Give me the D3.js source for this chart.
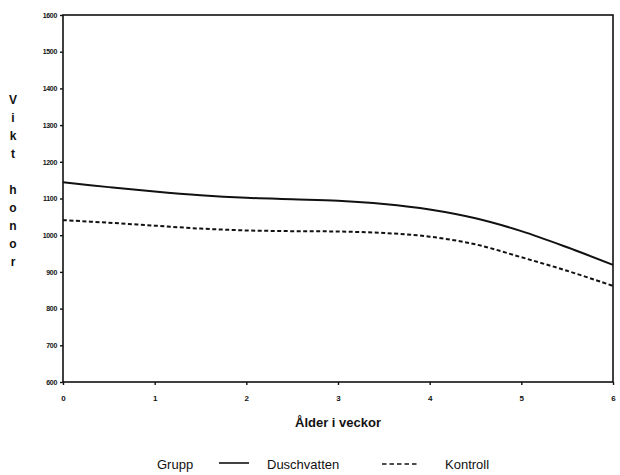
<!DOCTYPE html>
<html>
<head>
<meta charset="utf-8">
<script src="https://cdn.jsdelivr.net/npm/d3@7"></script>
<style>
  body { margin: 0; background: #fff; }
  svg { display: block; }
</style>
</head>
<body>
<svg id="chart"></svg>
<script>
// Data (weight in grams, age in weeks)
const weeks = [0, 0.5, 1, 1.5, 2, 2.5, 3, 3.5, 4, 4.5, 5, 5.5, 6];
const duschvatten = [1144, 1131, 1119, 1109, 1102, 1098, 1094, 1085, 1070, 1046, 1011, 967, 919];
const kontroll = [1041, 1034, 1026, 1018, 1013, 1011, 1010, 1006, 996, 975, 940, 903, 862];
const xTicks = [0, 1, 2, 3, 4, 5, 6];
const yTicks = [600, 700, 800, 900, 1000, 1100, 1200, 1300, 1400, 1500, 1600];
const yTitle = ['V', 'i', 'k', 't', '', 'h', 'o', 'n', 'o', 'r'];

const width = 620;
const height = 475;
const marginLeft = 63;
const marginRight = 5;
const marginTop = 15;
const marginBottom = 93;
const ink = '#111';
const font = 'Liberation Sans, Arial, sans-serif';

const svg = d3.select('#chart')
  .attr('width', width)
  .attr('height', height)
  .style('background', '#fff');

const x = d3.scaleLinear()
  .domain([0, 6])
  .range([marginLeft, width - marginRight - 2]);

const y = d3.scaleLinear()
  .domain([600, 1600])
  .range([height - marginBottom, marginTop]);

// Frame
svg.append('rect')
  .attr('x', marginLeft)
  .attr('y', marginTop)
  .attr('width', width - marginRight - 2 - marginLeft)
  .attr('height', height - marginBottom - marginTop)
  .attr('fill', 'none')
  .attr('stroke', ink)
  .attr('stroke-width', 1.6);

// Y axis
const yAxis = svg.append('g')
  .attr('transform', `translate(${marginLeft},0)`)
  .call(d3.axisLeft(y).tickValues(yTicks).tickFormat(d3.format('d')).tickSize(3).tickPadding(3));
yAxis.select('.domain').remove();
yAxis.selectAll('line').attr('stroke', ink).attr('stroke-width', 1.4);
yAxis.selectAll('text')
  .attr('fill', ink)
  .style('font-family', font)
  .style('font-size', '7px')
  .style('font-weight', 'bold')
  .style('letter-spacing', '-0.3px');

// X axis
const xAxis = svg.append('g')
  .attr('transform', `translate(0,${height - marginBottom})`)
  .call(d3.axisBottom(x).tickValues(xTicks).tickFormat(d3.format('d')).tickSize(3).tickPadding(10));
xAxis.select('.domain').remove();
xAxis.selectAll('line').attr('stroke', ink).attr('stroke-width', 1.4);
xAxis.selectAll('text')
  .attr('fill', ink)
  .style('font-family', font)
  .style('font-size', '8px')
  .style('font-weight', 'bold');

// Lines
const line = d3.line()
  .x((d, i) => x(weeks[i]))
  .y(d => y(d))
  .curve(d3.curveCatmullRom);

svg.append('path')
  .datum(duschvatten)
  .attr('fill', 'none')
  .attr('stroke', ink)
  .attr('stroke-width', 2)
  .attr('d', line);

svg.append('path')
  .datum(kontroll)
  .attr('fill', 'none')
  .attr('stroke', ink)
  .attr('stroke-width', 2)
  .attr('stroke-dasharray', '4,2.5')
  .attr('d', line);

// Axis titles
svg.append('text')
  .attr('x', (x(0) + x(6)) / 2)
  .attr('y', 427)
  .attr('text-anchor', 'middle')
  .attr('fill', ink)
  .style('font-family', font)
  .style('font-size', '13px')
  .style('font-weight', 'bold')
  .text('Ålder i veckor');

svg.append('g')
  .selectAll('text')
  .data(yTitle)
  .join('text')
  .attr('x', 13)
  .attr('y', (d, i) => 104 + i * 18)
  .attr('text-anchor', 'middle')
  .attr('fill', ink)
  .style('font-family', font)
  .style('font-size', '12px')
  .style('font-weight', 'bold')
  .text(d => d);

// Legend
const legend = svg.append('g')
  .style('font-family', font)
  .style('font-size', '13px')
  .attr('fill', ink);

legend.append('text').attr('x', 157).attr('y', 469).text('Grupp');
legend.append('line')
  .attr('x1', 219).attr('x2', 249).attr('y1', 463).attr('y2', 463)
  .attr('stroke', ink).attr('stroke-width', 1.6);
legend.append('text').attr('x', 267).attr('y', 469).text('Duschvatten');
legend.append('line')
  .attr('x1', 382).attr('x2', 418).attr('y1', 464).attr('y2', 464)
  .attr('stroke', ink).attr('stroke-width', 1.6)
  .attr('stroke-dasharray', '4.5,3');
legend.append('text').attr('x', 445).attr('y', 469).text('Kontroll');
</script>
</body>
</html>
